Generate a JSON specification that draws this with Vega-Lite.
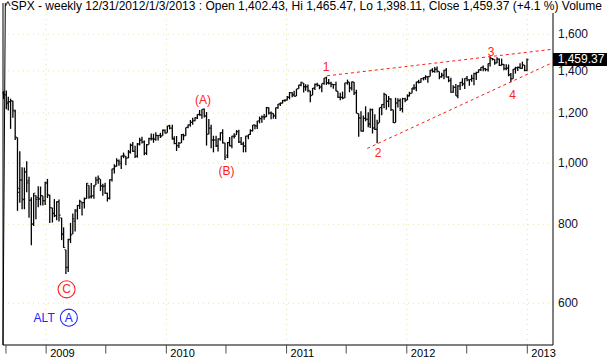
{
"$schema": "https://vega.github.io/schema/vega-lite/v6.json",
"width": 550, "height": 332,
"autosize": {"type": "none"},
"padding": {"left": 3, "top": 13, "right": 61, "bottom": 16},
"background": "white",
"title": {"text": "^SPX - weekly 12/31/2012/1/3/2013 : Open 1,402.43, Hi 1,465.47, Lo 1,398.11, Close 1,459.37 (+4.1 %) Volume", "anchor": "start", "frame": "group", "fontSize": 12, "fontWeight": "normal", "font": "Liberation Sans", "color": "black", "offset": -12, "dx": 2},
"config": {"view": {"stroke": null}, "font": "Liberation Sans"},
"datasets": {
"bars": [
{"d":"2008-08-25","o":1292,"h":1300,"l":1263,"c":1283},
{"d":"2008-09-02","o":1283,"h":1303,"l":1217,"c":1242},
{"d":"2008-09-08","o":1249,"h":1274,"l":1212,"c":1252},
{"d":"2008-09-15","o":1250,"h":1265,"l":1133,"c":1255},
{"d":"2008-09-22","o":1255,"h":1255,"l":1180,"c":1213},
{"d":"2008-09-29","o":1209,"h":1215,"l":1088,"c":1099},
{"d":"2008-10-06","o":1097,"h":1098,"l":840,"c":899},
{"d":"2008-10-13","o":912,"h":1044,"l":865,"c":940},
{"d":"2008-10-20","o":941,"h":985,"l":845,"c":877},
{"d":"2008-10-27","o":875,"h":984,"l":845,"c":968},
{"d":"2008-11-03","o":969,"h":1007,"l":899,"c":930},
{"d":"2008-11-10","o":937,"h":951,"l":819,"c":873},
{"d":"2008-11-17","o":874,"h":883,"l":741,"c":800},
{"d":"2008-11-24","o":801,"h":896,"l":795,"c":896},
{"d":"2008-12-01","o":888,"h":889,"l":815,"c":876},
{"d":"2008-12-08","o":882,"h":919,"l":851,"c":879},
{"d":"2008-12-15","o":876,"h":918,"l":857,"c":888},
{"d":"2008-12-22","o":888,"h":888,"l":857,"c":872},
{"d":"2008-12-29","o":872,"h":934,"l":858,"c":932},
{"d":"2009-01-05","o":929,"h":944,"l":880,"c":890},
{"d":"2009-01-12","o":890,"h":891,"l":804,"c":850},
{"d":"2009-01-20","o":849,"h":850,"l":805,"c":832},
{"d":"2009-01-26","o":833,"h":877,"l":821,"c":826},
{"d":"2009-02-02","o":825,"h":870,"l":812,"c":869},
{"d":"2009-02-09","o":868,"h":876,"l":808,"c":827},
{"d":"2009-02-17","o":819,"h":819,"l":755,"c":770},
{"d":"2009-02-23","o":773,"h":791,"l":734,"c":735},
{"d":"2009-03-02","o":729,"h":729,"l":667,"c":683},
{"d":"2009-03-09","o":684,"h":759,"l":672,"c":756},
{"d":"2009-03-16","o":757,"h":804,"l":747,"c":769},
{"d":"2009-03-23","o":772,"h":832,"l":772,"c":816},
{"d":"2009-03-30","o":809,"h":845,"l":779,"c":843},
{"d":"2009-04-06","o":839,"h":858,"l":814,"c":857},
{"d":"2009-04-13","o":856,"h":875,"l":846,"c":870},
{"d":"2009-04-20","o":868,"h":868,"l":826,"c":866},
{"d":"2009-04-27","o":866,"h":882,"l":847,"c":878},
{"d":"2009-05-04","o":879,"h":930,"l":878,"c":929},
{"d":"2009-05-11","o":922,"h":922,"l":878,"c":883},
{"d":"2009-05-18","o":886,"h":930,"l":879,"c":887},
{"d":"2009-05-26","o":887,"h":923,"l":878,"c":919},
{"d":"2009-06-01","o":923,"h":951,"l":923,"c":940},
{"d":"2009-06-08","o":940,"h":956,"l":927,"c":946},
{"d":"2009-06-15","o":943,"h":943,"l":903,"c":921},
{"d":"2009-06-22","o":919,"h":927,"l":888,"c":918},
{"d":"2009-06-29","o":920,"h":931,"l":893,"c":896},
{"d":"2009-07-06","o":895,"h":898,"l":869,"c":879},
{"d":"2009-07-13","o":880,"h":943,"l":876,"c":941},
{"d":"2009-07-20","o":941,"h":980,"l":935,"c":979},
{"d":"2009-07-27","o":979,"h":996,"l":963,"c":987},
{"d":"2009-08-03","o":990,"h":1018,"l":987,"c":1010},
{"d":"2009-08-10","o":1008,"h":1013,"l":990,"c":1005},
{"d":"2009-08-17","o":998,"h":1027,"l":979,"c":1026},
{"d":"2009-08-24","o":1027,"h":1039,"l":1018,"c":1029},
{"d":"2009-08-31","o":1025,"h":1026,"l":992,"c":1017},
{"d":"2009-09-08","o":1020,"h":1049,"l":1018,"c":1042},
{"d":"2009-09-14","o":1040,"h":1074,"l":1035,"c":1068},
{"d":"2009-09-21","o":1067,"h":1080,"l":1041,"c":1044},
{"d":"2009-09-28","o":1045,"h":1065,"l":1019,"c":1025},
{"d":"2009-10-05","o":1026,"h":1076,"l":1020,"c":1072},
{"d":"2009-10-12","o":1072,"h":1097,"l":1066,"c":1087},
{"d":"2009-10-19","o":1088,"h":1101,"l":1074,"c":1080},
{"d":"2009-10-26","o":1080,"h":1086,"l":1029,"c":1036},
{"d":"2009-11-02","o":1037,"h":1072,"l":1030,"c":1069},
{"d":"2009-11-09","o":1070,"h":1097,"l":1070,"c":1093},
{"d":"2009-11-16","o":1094,"h":1114,"l":1086,"c":1091},
{"d":"2009-11-23","o":1094,"h":1113,"l":1077,"c":1091},
{"d":"2009-11-30","o":1091,"h":1119,"l":1085,"c":1106},
{"d":"2009-12-07","o":1106,"h":1108,"l":1086,"c":1106},
{"d":"2009-12-14","o":1107,"h":1117,"l":1096,"c":1102},
{"d":"2009-12-21","o":1105,"h":1130,"l":1105,"c":1127},
{"d":"2009-12-28","o":1128,"h":1130,"l":1114,"c":1115},
{"d":"2010-01-04","o":1117,"h":1146,"l":1117,"c":1145},
{"d":"2010-01-11","o":1146,"h":1150,"l":1131,"c":1136},
{"d":"2010-01-19","o":1136,"h":1150,"l":1090,"c":1092},
{"d":"2010-01-25","o":1092,"h":1103,"l":1071,"c":1074},
{"d":"2010-02-01","o":1074,"h":1104,"l":1045,"c":1066},
{"d":"2010-02-08","o":1066,"h":1080,"l":1057,"c":1075},
{"d":"2010-02-16","o":1076,"h":1112,"l":1076,"c":1109},
{"d":"2010-02-22","o":1110,"h":1113,"l":1087,"c":1105},
{"d":"2010-03-01","o":1105,"h":1139,"l":1105,"c":1139},
{"d":"2010-03-08","o":1139,"h":1151,"l":1136,"c":1150},
{"d":"2010-03-15","o":1150,"h":1170,"l":1142,"c":1160},
{"d":"2010-03-22","o":1160,"h":1180,"l":1150,"c":1167},
{"d":"2010-03-29","o":1167,"h":1182,"l":1165,"c":1179},
{"d":"2010-04-05","o":1179,"h":1195,"l":1175,"c":1194},
{"d":"2010-04-12","o":1194,"h":1214,"l":1189,"c":1192},
{"d":"2010-04-19","o":1192,"h":1217,"l":1176,"c":1217},
{"d":"2010-04-26","o":1217,"h":1220,"l":1181,"c":1187},
{"d":"2010-05-03","o":1188,"h":1205,"l":1066,"c":1111},
{"d":"2010-05-10","o":1111,"h":1174,"l":1111,"c":1136},
{"d":"2010-05-17","o":1136,"h":1150,"l":1056,"c":1087},
{"d":"2010-05-24","o":1088,"h":1105,"l":1040,"c":1089},
{"d":"2010-06-01","o":1087,"h":1105,"l":1060,"c":1065},
{"d":"2010-06-07","o":1065,"h":1094,"l":1043,"c":1092},
{"d":"2010-06-14","o":1092,"h":1119,"l":1085,"c":1117},
{"d":"2010-06-21","o":1117,"h":1131,"l":1074,"c":1076},
{"d":"2010-06-28","o":1077,"h":1077,"l":1011,"c":1022},
{"d":"2010-07-06","o":1029,"h":1080,"l":1018,"c":1078},
{"d":"2010-07-12","o":1078,"h":1100,"l":1063,"c":1065},
{"d":"2010-07-19","o":1066,"h":1105,"l":1056,"c":1103},
{"d":"2010-07-26","o":1103,"h":1115,"l":1094,"c":1102},
{"d":"2010-08-02","o":1108,"h":1128,"l":1108,"c":1122},
{"d":"2010-08-09","o":1122,"h":1129,"l":1076,"c":1080},
{"d":"2010-08-16","o":1080,"h":1100,"l":1068,"c":1071},
{"d":"2010-08-23","o":1073,"h":1081,"l":1040,"c":1065},
{"d":"2010-08-30","o":1063,"h":1105,"l":1040,"c":1104},
{"d":"2010-09-07","o":1103,"h":1110,"l":1091,"c":1110},
{"d":"2010-09-13","o":1110,"h":1131,"l":1108,"c":1125},
{"d":"2010-09-20","o":1126,"h":1149,"l":1122,"c":1149},
{"d":"2010-09-27","o":1149,"h":1151,"l":1131,"c":1147},
{"d":"2010-10-04","o":1144,"h":1167,"l":1132,"c":1166},
{"d":"2010-10-11","o":1166,"h":1185,"l":1156,"c":1176},
{"d":"2010-10-18","o":1176,"h":1190,"l":1159,"c":1183},
{"d":"2010-10-25","o":1184,"h":1196,"l":1171,"c":1183},
{"d":"2010-11-01","o":1185,"h":1227,"l":1183,"c":1225},
{"d":"2010-11-08","o":1223,"h":1226,"l":1194,"c":1200},
{"d":"2010-11-15","o":1201,"h":1207,"l":1173,"c":1200},
{"d":"2010-11-22","o":1198,"h":1199,"l":1176,"c":1190},
{"d":"2010-11-29","o":1187,"h":1225,"l":1174,"c":1224},
{"d":"2010-12-06","o":1224,"h":1241,"l":1219,"c":1240},
{"d":"2010-12-13","o":1241,"h":1247,"l":1232,"c":1244},
{"d":"2010-12-20","o":1245,"h":1259,"l":1243,"c":1257},
{"d":"2010-12-27","o":1256,"h":1262,"l":1251,"c":1258},
{"d":"2011-01-03","o":1258,"h":1277,"l":1257,"c":1272},
{"d":"2011-01-10","o":1271,"h":1296,"l":1262,"c":1293},
{"d":"2011-01-18","o":1293,"h":1296,"l":1271,"c":1283},
{"d":"2011-01-24","o":1283,"h":1302,"l":1275,"c":1276},
{"d":"2011-01-31","o":1277,"h":1311,"l":1277,"c":1311},
{"d":"2011-02-07","o":1312,"h":1331,"l":1312,"c":1330},
{"d":"2011-02-14","o":1329,"h":1345,"l":1324,"c":1343},
{"d":"2011-02-22","o":1339,"h":1339,"l":1294,"c":1320},
{"d":"2011-02-28","o":1322,"h":1333,"l":1302,"c":1321},
{"d":"2011-03-07","o":1322,"h":1332,"l":1295,"c":1304},
{"d":"2011-03-14","o":1301,"h":1302,"l":1249,"c":1279},
{"d":"2011-03-21","o":1281,"h":1315,"l":1281,"c":1314},
{"d":"2011-03-28","o":1315,"h":1337,"l":1305,"c":1332},
{"d":"2011-04-04","o":1333,"h":1340,"l":1322,"c":1328},
{"d":"2011-04-11","o":1329,"h":1330,"l":1309,"c":1320},
{"d":"2011-04-18","o":1320,"h":1337,"l":1295,"c":1337},
{"d":"2011-04-25","o":1338,"h":1364,"l":1331,"c":1364},
{"d":"2011-05-02","o":1365,"h":1371,"l":1330,"c":1340},
{"d":"2011-05-09","o":1340,"h":1359,"l":1332,"c":1338},
{"d":"2011-05-16","o":1339,"h":1346,"l":1319,"c":1333},
{"d":"2011-05-23","o":1333,"h":1334,"l":1311,"c":1331},
{"d":"2011-05-31","o":1332,"h":1346,"l":1300,"c":1300},
{"d":"2011-06-06","o":1300,"h":1300,"l":1268,"c":1271},
{"d":"2011-06-13","o":1272,"h":1292,"l":1258,"c":1271},
{"d":"2011-06-20","o":1271,"h":1298,"l":1262,"c":1268},
{"d":"2011-06-27","o":1268,"h":1341,"l":1268,"c":1340},
{"d":"2011-07-05","o":1339,"h":1356,"l":1331,"c":1344},
{"d":"2011-07-11","o":1343,"h":1343,"l":1295,"c":1316},
{"d":"2011-07-18","o":1315,"h":1347,"l":1303,"c":1345},
{"d":"2011-07-25","o":1344,"h":1344,"l":1282,"c":1292},
{"d":"2011-08-01","o":1293,"h":1307,"l":1199,"c":1199},
{"d":"2011-08-08","o":1198,"h":1198,"l":1101,"c":1179},
{"d":"2011-08-15","o":1179,"h":1208,"l":1122,"c":1124},
{"d":"2011-08-22","o":1124,"h":1190,"l":1121,"c":1177},
{"d":"2011-08-29","o":1177,"h":1230,"l":1165,"c":1174},
{"d":"2011-09-06","o":1173,"h":1204,"l":1140,"c":1154},
{"d":"2011-09-12","o":1153,"h":1220,"l":1137,"c":1216},
{"d":"2011-09-19","o":1214,"h":1220,"l":1114,"c":1136},
{"d":"2011-09-26","o":1137,"h":1195,"l":1128,"c":1131},
{"d":"2011-10-03","o":1131,"h":1171,"l":1075,"c":1155},
{"d":"2011-10-10","o":1159,"h":1224,"l":1159,"c":1225},
{"d":"2011-10-17","o":1224,"h":1239,"l":1191,"c":1238},
{"d":"2011-10-24","o":1239,"h":1293,"l":1221,"c":1285},
{"d":"2011-10-31","o":1284,"h":1284,"l":1215,"c":1253},
{"d":"2011-11-07","o":1253,"h":1277,"l":1226,"c":1264},
{"d":"2011-11-14","o":1263,"h":1267,"l":1209,"c":1216},
{"d":"2011-11-21","o":1215,"h":1215,"l":1158,"c":1159},
{"d":"2011-11-28","o":1159,"h":1269,"l":1159,"c":1245},
{"d":"2011-12-05","o":1245,"h":1267,"l":1225,"c":1255},
{"d":"2011-12-12","o":1256,"h":1266,"l":1209,"c":1219},
{"d":"2011-12-19","o":1220,"h":1269,"l":1203,"c":1265},
{"d":"2011-12-27","o":1265,"h":1269,"l":1248,"c":1258},
{"d":"2012-01-03","o":1258,"h":1285,"l":1258,"c":1278},
{"d":"2012-01-09","o":1278,"h":1297,"l":1275,"c":1289},
{"d":"2012-01-17","o":1290,"h":1315,"l":1290,"c":1316},
{"d":"2012-01-23","o":1315,"h":1333,"l":1306,"c":1316},
{"d":"2012-01-30","o":1316,"h":1345,"l":1300,"c":1345},
{"d":"2012-02-06","o":1344,"h":1355,"l":1337,"c":1342},
{"d":"2012-02-13","o":1343,"h":1363,"l":1340,"c":1361},
{"d":"2012-02-21","o":1362,"h":1368,"l":1352,"c":1366},
{"d":"2012-02-27","o":1366,"h":1378,"l":1355,"c":1370},
{"d":"2012-03-05","o":1370,"h":1374,"l":1340,"c":1371},
{"d":"2012-03-12","o":1371,"h":1405,"l":1371,"c":1404},
{"d":"2012-03-19","o":1404,"h":1414,"l":1391,"c":1397},
{"d":"2012-03-26","o":1397,"h":1420,"l":1391,"c":1408},
{"d":"2012-04-02","o":1408,"h":1422,"l":1392,"c":1398},
{"d":"2012-04-09","o":1397,"h":1397,"l":1358,"c":1370},
{"d":"2012-04-16","o":1370,"h":1391,"l":1365,"c":1378},
{"d":"2012-04-23","o":1378,"h":1406,"l":1358,"c":1403},
{"d":"2012-04-30","o":1403,"h":1415,"l":1367,"c":1369},
{"d":"2012-05-07","o":1368,"h":1373,"l":1343,"c":1353},
{"d":"2012-05-14","o":1351,"h":1365,"l":1292,"c":1295},
{"d":"2012-05-21","o":1295,"h":1328,"l":1292,"c":1318},
{"d":"2012-05-29","o":1318,"h":1334,"l":1278,"c":1278},
{"d":"2012-06-04","o":1278,"h":1329,"l":1267,"c":1325},
{"d":"2012-06-11","o":1325,"h":1344,"l":1306,"c":1343},
{"d":"2012-06-18","o":1343,"h":1363,"l":1324,"c":1335},
{"d":"2012-06-25","o":1335,"h":1363,"l":1310,"c":1362},
{"d":"2012-07-02","o":1362,"h":1374,"l":1348,"c":1355},
{"d":"2012-07-09","o":1355,"h":1357,"l":1326,"c":1357},
{"d":"2012-07-16","o":1356,"h":1380,"l":1345,"c":1362},
{"d":"2012-07-23","o":1362,"h":1391,"l":1329,"c":1386},
{"d":"2012-07-30","o":1385,"h":1395,"l":1354,"c":1391},
{"d":"2012-08-06","o":1392,"h":1407,"l":1391,"c":1406},
{"d":"2012-08-13","o":1406,"h":1418,"l":1399,"c":1418},
{"d":"2012-08-20","o":1418,"h":1427,"l":1398,"c":1411},
{"d":"2012-08-27","o":1411,"h":1414,"l":1398,"c":1407},
{"d":"2012-09-04","o":1406,"h":1438,"l":1397,"c":1438},
{"d":"2012-09-10","o":1438,"h":1474,"l":1423,"c":1466},
{"d":"2012-09-17","o":1466,"h":1467,"l":1454,"c":1460},
{"d":"2012-09-24","o":1460,"h":1460,"l":1431,"c":1441},
{"d":"2012-10-01","o":1441,"h":1471,"l":1439,"c":1461},
{"d":"2012-10-08","o":1461,"h":1465,"l":1425,"c":1428},
{"d":"2012-10-15","o":1429,"h":1464,"l":1427,"c":1433},
{"d":"2012-10-22","o":1433,"h":1436,"l":1403,"c":1412},
{"d":"2012-10-29","o":1411,"h":1434,"l":1403,"c":1414},
{"d":"2012-11-05","o":1414,"h":1433,"l":1373,"c":1380},
{"d":"2012-11-12","o":1380,"h":1389,"l":1343,"c":1360},
{"d":"2012-11-19","o":1360,"h":1409,"l":1360,"c":1409},
{"d":"2012-11-26","o":1409,"h":1421,"l":1386,"c":1416},
{"d":"2012-12-03","o":1416,"h":1423,"l":1399,"c":1418},
{"d":"2012-12-10","o":1418,"h":1439,"l":1410,"c":1413},
{"d":"2012-12-17","o":1413,"h":1448,"l":1411,"c":1430},
{"d":"2012-12-24","o":1430,"h":1430,"l":1398,"c":1402},
{"d":"2012-12-31","o":1402,"h":1465,"l":1398,"c":1459}
],
"trend": [
{"line":"upper","d":"2011-05-04","p":1375},
{"line":"upper","d":"2013-03-20","p":1515},
{"line":"lower","d":"2011-09-03","p":1055},
{"line":"lower","d":"2013-03-20","p":1444}
],
"frame": [
{"side":"left","d":"2008-08-30","p":1793},
{"side":"left","d":"2008-08-23","p":1793},
{"side":"left","d":"2008-08-23","p":515},
{"side":"bottom","d":"2008-08-23","p":515},
{"side":"bottom","d":"2013-03-20","p":515},
{"side":"right","d":"2013-03-20","p":515},
{"side":"right","d":"2013-03-20","p":1729}
],
"grid": [
{"g":"h600","d":"2008-08-23","p":600},{"g":"h600","d":"2013-03-20","p":600},
{"g":"h800","d":"2008-08-23","p":800},{"g":"h800","d":"2013-03-20","p":800},
{"g":"h1000","d":"2008-08-23","p":1000},{"g":"h1000","d":"2013-03-20","p":1000},
{"g":"h1200","d":"2008-08-23","p":1200},{"g":"h1200","d":"2013-03-20","p":1200},
{"g":"h1400","d":"2008-08-23","p":1400},{"g":"h1400","d":"2013-03-20","p":1400},
{"g":"h1600","d":"2008-08-23","p":1600},{"g":"h1600","d":"2013-03-20","p":1600},
{"g":"v2009","d":"2009-01-01","p":515},{"g":"v2009","d":"2009-01-01","p":1729},
{"g":"v2010","d":"2010-01-01","p":515},{"g":"v2010","d":"2010-01-01","p":1729},
{"g":"v2011","d":"2011-01-01","p":515},{"g":"v2011","d":"2011-01-01","p":1729},
{"g":"v2012","d":"2012-01-01","p":515},{"g":"v2012","d":"2012-01-01","p":1729},
{"g":"v2013","d":"2013-01-01","p":515},{"g":"v2013","d":"2013-01-01","p":1729}
],
"xTicks": [
{"d":"2008-09-01"},{"d":"2009-01-01"},{"d":"2009-07-01"},{"d":"2010-01-01"},{"d":"2010-07-01"},{"d":"2011-01-01"},{"d":"2011-07-01"},{"d":"2012-01-01"},{"d":"2012-07-01"},{"d":"2013-01-01"}
],
"xLabels": [
{"d":"2009-01-01","t":"2009"},{"d":"2010-01-01","t":"2010"},{"d":"2011-01-01","t":"2011"},{"d":"2012-01-01","t":"2012"},{"d":"2013-01-01","t":"2013"}
],
"yLabels": [
{"d":"2013-03-20","p":600,"t":"600"},
{"d":"2013-03-20","p":800,"t":"800"},
{"d":"2013-03-20","p":1000,"t":"1,000"},
{"d":"2013-03-20","p":1200,"t":"1,200"},
{"d":"2013-03-20","p":1400,"t":"1,400"},
{"d":"2013-03-20","p":1600,"t":"1,600"}
],
"redText": [
{"d":"2011-05-01","p":1421,"t":"1"},
{"d":"2011-10-06","p":1036,"t":"2"},
{"d":"2012-09-13","p":1501,"t":"3"},
{"d":"2012-11-17","p":1282,"t":"4"},
{"d":"2010-04-22","p":1259,"t":"(A)"},
{"d":"2010-07-03","p":971,"t":"(B)"},
{"d":"2009-03-04","p":631,"t":"C"}
],
"blueText": [
{"d":"2008-12-26","p":569,"t":"ALT"},
{"d":"2009-03-11","p":569,"t":"A"}
],
"circles": [
{"d":"2009-03-04","p":631,"k":"wave"},
{"d":"2009-03-11","p":569,"k":"alt"}
],
"last": [
{"d":"2013-03-20","p":1459.37,"t":"1,459.37"}
]
},
"layer": [
{"data": {"name": "grid"},
 "mark": {"type": "line", "color": "#e4e49a", "strokeWidth": 1, "strokeDash": [1, 4]},
 "encoding": {
  "x": {"field": "d", "type": "temporal", "axis": null,
   "scale": {"domain": [{"year": 2008, "month": 8, "date": 23}, {"year": 2013, "month": 3, "date": 20}]}},
  "y": {"field": "p", "type": "quantitative", "axis": null,
   "scale": {"type": "log", "domain": [515, 1729], "nice": false, "zero": false}},
  "detail": {"field": "g"}}},
{"data": {"name": "bars"},
 "mark": {"type": "rule", "color": "black", "strokeWidth": 1.3},
 "encoding": {
  "x": {"field": "d", "type": "temporal", "axis": null},
  "y": {"field": "l", "type": "quantitative", "axis": null},
  "y2": {"field": "h"}}},
{"data": {"name": "bars"},
 "mark": {"type": "tick", "orient": "horizontal", "color": "black", "size": 1.6, "thickness": 1.2, "xOffset": -0.9},
 "encoding": {"x": {"field": "d", "type": "temporal", "axis": null}, "y": {"field": "o", "type": "quantitative", "axis": null}}},
{"data": {"name": "bars"},
 "mark": {"type": "tick", "orient": "horizontal", "color": "black", "size": 1.6, "thickness": 1.2, "xOffset": 0.9},
 "encoding": {"x": {"field": "d", "type": "temporal", "axis": null}, "y": {"field": "c", "type": "quantitative", "axis": null}}},
{"data": {"name": "frame"},
 "mark": {"type": "line", "color": "black", "strokeWidth": 1},
 "encoding": {"x": {"field": "d", "type": "temporal", "axis": null}, "y": {"field": "p", "type": "quantitative", "axis": null}, "detail": {"field": "side"}}},
{"data": {"name": "xTicks"},
 "mark": {"type": "tick", "orient": "vertical", "color": "black", "size": 8, "thickness": 1, "yOffset": 4.5},
 "encoding": {"x": {"field": "d", "type": "temporal", "axis": null}, "y": {"datum": 515, "type": "quantitative", "axis": null}}},
{"data": {"name": "xLabels"},
 "mark": {"type": "text", "fontSize": 11, "font": "Liberation Sans", "align": "left", "baseline": "middle", "color": "black", "dx": 4, "dy": 8.5},
 "encoding": {"x": {"field": "d", "type": "temporal", "axis": null}, "y": {"datum": 515, "type": "quantitative", "axis": null}, "text": {"field": "t"}}},
{"data": {"name": "yLabels"},
 "mark": {"type": "text", "fontSize": 12, "font": "Liberation Sans", "align": "left", "baseline": "middle", "color": "#10102a", "dx": 5},
 "encoding": {"x": {"field": "d", "type": "temporal", "axis": null}, "y": {"field": "p", "type": "quantitative", "axis": null}, "text": {"field": "t"}}},
{"data": {"name": "trend"},
 "mark": {"type": "line", "color": "#ff1a1a", "strokeWidth": 1, "strokeDash": [3, 3]},
 "encoding": {"x": {"field": "d", "type": "temporal", "axis": null},
  "y": {"field": "p", "type": "quantitative", "axis": null},
  "detail": {"field": "line"}}},
{"data": {"name": "redText"},
 "mark": {"type": "text", "color": "#ff2222", "fontSize": 12, "font": "Liberation Sans", "align": "center", "baseline": "middle"},
 "encoding": {"x": {"field": "d", "type": "temporal", "axis": null}, "y": {"field": "p", "type": "quantitative", "axis": null}, "text": {"field": "t"}}},
{"data": {"name": "blueText"},
 "mark": {"type": "text", "color": "#2222ff", "fontSize": 12, "font": "Liberation Sans", "align": "center", "baseline": "middle"},
 "encoding": {"x": {"field": "d", "type": "temporal", "axis": null}, "y": {"field": "p", "type": "quantitative", "axis": null}, "text": {"field": "t"}}},
{"data": {"name": "circles"},
 "mark": {"type": "point", "shape": "circle", "filled": false, "size": 290, "strokeWidth": 1.1, "opacity": 1},
 "encoding": {"x": {"field": "d", "type": "temporal", "axis": null}, "y": {"field": "p", "type": "quantitative", "axis": null},
  "color": {"field": "k", "type": "nominal", "scale": {"domain": ["wave", "alt"], "range": ["#ff2222", "#2222ff"]}, "legend": null}}},
{"mark": {"type": "text", "text": "\u00a9 Copyright 2013 Market-Harmonics.com", "fontSize": 9, "font": "Liberation Sans", "align": "left", "baseline": "middle", "color": "black"},
 "encoding": {"x": {"datum": {"year": 2008, "month": 9, "date": 28}, "type": "temporal", "axis": null}, "y": {"datum": 1616, "type": "quantitative", "axis": null}}},
{"data": {"name": "last"},
 "mark": {"type": "point", "shape": "M0,-0.24H2V0.24H0Z", "filled": true, "color": "black", "size": 2916, "opacity": 1, "strokeWidth": 0},
 "encoding": {"x": {"field": "d", "type": "temporal", "axis": null}, "y": {"field": "p", "type": "quantitative", "axis": null}}},
{"data": {"name": "last"},
 "mark": {"type": "text", "fontSize": 12, "font": "Liberation Sans", "align": "center", "baseline": "middle", "color": "white", "dx": 28},
 "encoding": {"x": {"field": "d", "type": "temporal", "axis": null}, "y": {"field": "p", "type": "quantitative", "axis": null}, "text": {"field": "t"}}}
]
}
